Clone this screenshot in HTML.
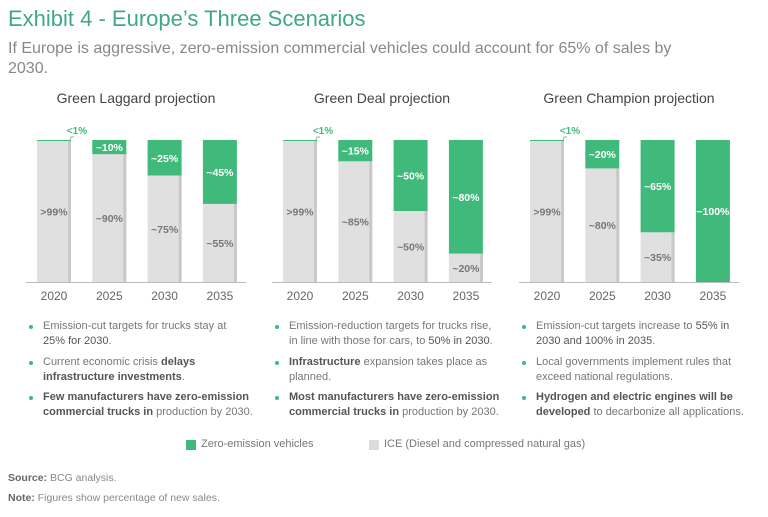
<!DOCTYPE html>
<html><head><meta charset="utf-8"><style>
body{margin:0;width:768px;height:517px;background:#fff;font-family:"Liberation Sans",sans-serif;overflow:hidden;position:relative}
.t{position:absolute;white-space:nowrap}
.b{position:absolute;font-size:11px;line-height:15px;color:#777;white-space:nowrap}
.b b{color:#555;font-weight:bold}
.dot{position:absolute;width:4px;height:4px;border-radius:50%;background:#3fba7a}
</style></head><body>
<div class="t" style="left:8px;top:6px;font-size:22px;color:#3fa886">Exhibit 4 - Europe’s Three Scenarios</div>
<div class="t" style="left:8px;top:39px;font-size:16px;line-height:20px;color:#888;white-space:normal;width:700px">If Europe is aggressive, zero-emission commercial vehicles could account for 65% of sales by 2030.</div>
<svg id="chart" width="768" height="310" style="position:absolute;left:0;top:0"></svg>

<div>
<div class="dot" style="left:29px;top:325px"></div><div class="b" style="left:43px;top:319px">Emission-cut targets for trucks stay at<br><b style="font-weight:normal;color:#555">25% for 2030</b>.</div>
<div class="dot" style="left:29px;top:361px"></div><div class="b" style="left:43px;top:355px">Current economic crisis <b>delays</b><br><b>infrastructure investments</b>.</div>
<div class="dot" style="left:29px;top:396px"></div><div class="b" style="left:43px;top:390px"><b>Few manufacturers have zero-emission</b><br><b>commercial trucks in</b> production by 2030.</div>
</div>
<div>
<div class="dot" style="left:275px;top:325px"></div><div class="b" style="left:289px;top:319px">Emission-reduction targets for trucks rise,<br>in line with those for cars, to <b style="font-weight:normal;color:#555">50% in 2030</b>.</div>
<div class="dot" style="left:275px;top:361px"></div><div class="b" style="left:289px;top:355px"><b>Infrastructure</b> expansion takes place as<br>planned.</div>
<div class="dot" style="left:275px;top:396px"></div><div class="b" style="left:289px;top:390px"><b>Most manufacturers have zero-emission</b><br><b>commercial trucks in</b> production by 2030.</div>
</div>
<div>
<div class="dot" style="left:522px;top:325px"></div><div class="b" style="left:536px;top:319px">Emission-cut targets increase to <b style="font-weight:normal;color:#555">55% in</b><br><b style="font-weight:normal;color:#555">2030 and 100% in 2035</b>.</div>
<div class="dot" style="left:522px;top:361px"></div><div class="b" style="left:536px;top:355px">Local governments implement rules that<br>exceed national regulations.</div>
<div class="dot" style="left:522px;top:396px"></div><div class="b" style="left:536px;top:390px"><b>Hydrogen and electric engines will be</b><br><b>developed</b> to decarbonize all applications.</div>
</div>

<div><div class="t" style="left:186px;top:440px;width:10px;height:10px;background:#3fba7a"></div><div class="t" style="left:201px;top:438px;font-size:11px;color:#777">Zero-emission vehicles</div></div>
<div><div class="t" style="left:369px;top:440px;width:10px;height:10px;background:#dcdcdc"></div><div class="t" style="left:384px;top:438px;font-size:11px;color:#777">ICE (Diesel and compressed natural gas)</div></div>
<div class="t" style="left:8px;top:472px;font-size:10.5px;color:#888"><b style="color:#666">Source:</b> BCG analysis.</div>
<div class="t" style="left:8px;top:492px;font-size:10.5px;color:#888"><b style="color:#666">Note:</b> Figures show percentage of new sales.</div>

<script>
const panelTitles=["Green Laggard projection","Green Deal projection","Green Champion projection"];
const years=["2020","2025","2030","2035"];
const zevLaggard=[0.5,10,25,45];
const zevDeal=[0.5,15,50,80];
const zevChampion=[0.5,20,65,100];
const zevLabelsLaggard=["<1%","~10%","~25%","~45%"];
const zevLabelsDeal=["<1%","~15%","~50%","~80%"];
const zevLabelsChampion=["<1%","~20%","~65%","~100%"];
const iceLabelsLaggard=[">99%","~90%","~75%","~55%"];
const iceLabelsDeal=[">99%","~85%","~50%","~20%"];
const iceLabelsChampion=[">99%","~80%","~35%",""];
const zevs=[zevLaggard,zevDeal,zevChampion];
const zl=[zevLabelsLaggard,zevLabelsDeal,zevLabelsChampion];
const il=[iceLabelsLaggard,iceLabelsDeal,iceLabelsChampion];
const svg=document.getElementById('chart');
const NS="http://www.w3.org/2000/svg";
const top0=140,base=282,bw=34;
const panelX=[26,272,519];
function split(v){return top0+(base-top0)*v/100;}
function x(p,i){return panelX[p]+11+i*55.3;}
function mk(tag,a){const e=document.createElementNS(NS,tag);for(const k in a)e.setAttribute(k,a[k]);svg.appendChild(e);return e;}
for(let p=0;p<3;p++){
  const t=mk('text',{x:panelX[p]+110,y:103,'text-anchor':'middle','font-size':14,fill:'#444'});t.textContent=panelTitles[p];
  
  
  for(let i=0;i<4;i++){
    const v=zevs[p][i],bx=x(p,i),s=split(v);
    if(v<100){
      const r=mk('rect',{x:bx,y:s,width:bw,height:base-s,fill:'#e0e0e0'});
      
      
      mk('rect',{x:bx+bw-3,y:s,width:3,height:base-s,fill:'#c9c9c9'});
    }
    const g=mk('rect',{x:bx,y:top0,width:bw,height:s-top0,fill:'#3fba7a'});
    
    
    if(v<2){
      mk('line',{x1:bx,x2:bx+bw,y1:top0+0.5,y2:top0+0.5,stroke:'#3fba7a'});
      mk('path',{d:`M${bx+bw-1} ${top0} l1 -3 h3`,stroke:'#aaa',fill:'none'});
      const lt=mk('text',{x:bx+bw+6,y:top0-6,'text-anchor':'middle','font-size':10,'font-weight':'bold',fill:'#3fba7a'});lt.textContent=zl[p][i];
      
      
    }else{
      const lt=mk('text',{x:bx+bw/2,y:(top0+s)/2+4,'text-anchor':'middle','font-size':10.5,'font-weight':'bold',fill:'#fff'});lt.textContent=zl[p][i];
      
      
    }
    if(il[p][i]){
      const it=mk('text',{x:bx+bw/2,y:(s+base)/2+4,'text-anchor':'middle','font-size':10.5,'font-weight':'bold',fill:'#777'});it.textContent=il[p][i];
      
      
    }
    const yt=mk('text',{x:bx+bw/2,y:base+18,'text-anchor':'middle','font-size':12,fill:'#666'});yt.textContent=years[i];
    
    
  }
  const ax=mk('line',{x1:panelX[p],x2:panelX[p]+220,y1:base+0.5,y2:base+0.5,stroke:'#bbb'});
  
  
}
</script>
</body></html>
